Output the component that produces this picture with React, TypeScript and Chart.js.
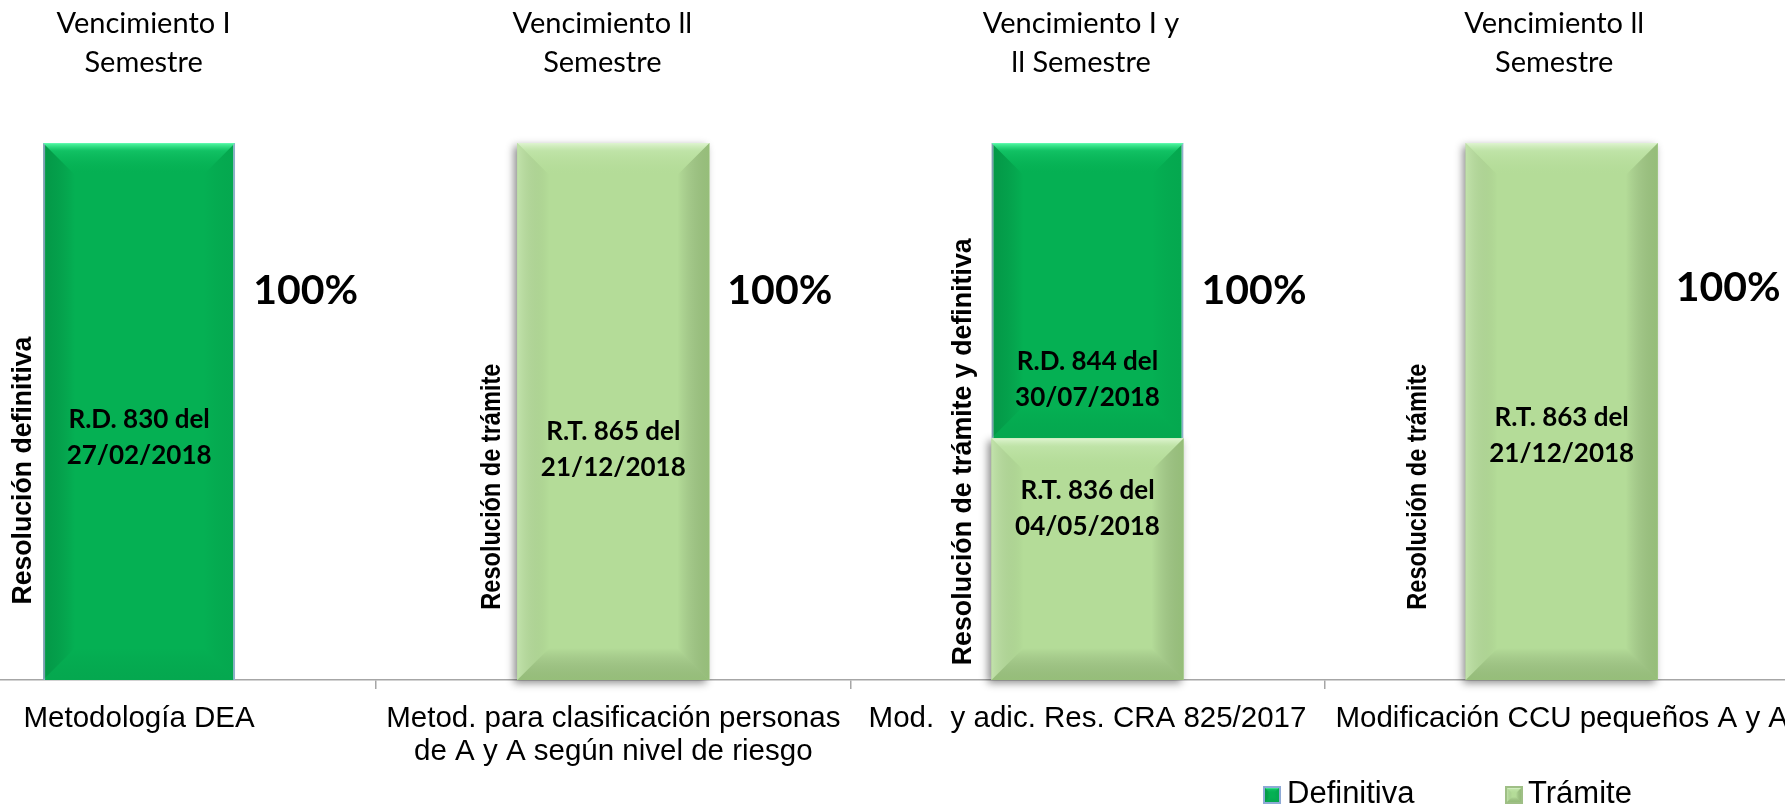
import React, { useEffect, useRef } from "react";
import { Chart, registerables } from "chart.js";

Chart.register(...registerables);

// ---------- data ----------
const categories: string[][] = [
  ["Metodología DEA"],
  ["Metod. para clasificación personas", "de A y A según nivel de riesgo"],
  ["Mod.  y adic. Res. CRA 825/2017"],
  ["Modificación CCU pequeños A y A"],
];
const seriesNames = ["Definitiva", "Trámite"];
const definitiva: (number | null)[] = [100, null, 55, null];
const tramite: (number | null)[] = [null, 100, 45, 100];
const percentLabels = ["100%", "100%", "100%", "100%"];
const periodTitles: string[][] = [
  ["Vencimiento I", "Semestre"],
  ["Vencimiento ll", "Semestre"],
  ["Vencimiento I y", "ll Semestre"],
  ["Vencimiento ll", "Semestre"],
];
const sideLabels = [
  "Resolución definitiva",
  "Resolución de trámite",
  "Resolución de trámite y definitiva",
  "Resolución de trámite",
];
const definitivaNotes: (string[] | null)[] = [
  ["R.D. 830 del", "27/02/2018"],
  null,
  ["R.D. 844 del", "30/07/2018"],
  null,
];
const tramiteNotes: (string[] | null)[] = [
  null,
  ["R.T. 865 del", "21/12/2018"],
  ["R.T. 836 del", "04/05/2018"],
  ["R.T. 863 del", "21/12/2018"],
];

// ---------- layout (positions / styles) ----------
const SHIFT = 98; // the picture is a crop: canvas starts left of the page
const CANVAS_W = 1900;
const CANVAS_H = 806;
const noteYDef = [45.1, null, 55.9, null];
const noteYTra = [null, 42.9, 31.9, 45.5];
const sideDX = [-20, -25, -28, -47];
const sideYv = [39, 36, 42.5, 36];
const sideLen = [268, 246, 427, 246];
const pctYv = [70.1, 70.1, 70.1, 70.6];
const titleDX = [4.5, -11, -6.5, -7.5];
const SANS = "'Liberation Sans', Arial, sans-serif";
const HUMAN = "Lato, 'Open Sans', sans-serif";
const DEF_COLOR = "#05b053";
const TRA_COLOR = "#b4dc98";

function poly(ctx: CanvasRenderingContext2D, pts: number[][], fill: any) {
  ctx.beginPath();
  ctx.moveTo(pts[0][0], pts[0][1]);
  for (let i = 1; i < pts.length; i++) ctx.lineTo(pts[i][0], pts[i][1]);
  ctx.closePath();
  ctx.fillStyle = fill;
  ctx.fill();
}

function bevel(ctx: CanvasRenderingContext2D, l: number, t: number, r: number, b: number, kind: string, depth = 32) {
  const w = r - l;
  const h = b - t;
  const d = Math.min(depth, w / 2, h / 2);
  const pal =
    kind === "def"
      ? {
          top: ["rgba(90,255,170,0.95)", "rgba(40,225,130,0.35)", "rgba(0,176,80,0)"],
          left: "rgba(0,70,30,0.22)",
          right: "rgba(0,70,30,0.08)",
          bottom: "rgba(0,70,30,0.08)",
        }
      : {
          top: ["rgba(225,246,212,0.95)", "rgba(205,236,186,0.45)", "rgba(181,221,154,0)"],
          left: "rgba(255,255,255,0.18)",
          right: "rgba(80,120,50,0.30)",
          bottom: "rgba(80,120,50,0.30)",
        };
  ctx.save();
  let g = ctx.createLinearGradient(l, 0, l + d, 0);
  g.addColorStop(0, pal.left);
  g.addColorStop(1, "rgba(0,0,0,0)");
  poly(ctx, [[l, t], [l + d, t + d], [l + d, b - d], [l, b]], g);
  g = ctx.createLinearGradient(r, 0, r - d, 0);
  g.addColorStop(0, pal.right);
  g.addColorStop(1, "rgba(0,0,0,0)");
  poly(ctx, [[r, t], [r - d, t + d], [r - d, b - d], [r, b]], g);
  g = ctx.createLinearGradient(0, b, 0, b - d);
  g.addColorStop(0, pal.bottom);
  g.addColorStop(1, "rgba(0,0,0,0)");
  poly(ctx, [[l, b], [r, b], [r - d, b - d], [l + d, b - d]], g);
  g = ctx.createLinearGradient(0, t, 0, t + d);
  g.addColorStop(0, pal.top[0]);
  g.addColorStop(0.25, pal.top[1]);
  g.addColorStop(1, pal.top[2]);
  poly(ctx, [[l, t], [r, t], [r - d, t + d], [l + d, t + d]], g);
  ctx.restore();
}

function barBox(el: any) {
  const p = el.getProps(["x", "y", "base", "width"], true);
  return {
    l: p.x - p.width / 2,
    r: p.x + p.width / 2,
    t: Math.min(p.y, p.base),
    b: Math.max(p.y, p.base),
    x: p.x,
  };
}

const decor = {
  id: "decor",
  beforeDatasetsDraw(chart: any) {
    const ctx = chart.ctx as CanvasRenderingContext2D;
    const meta = chart.getDatasetMeta(1);
    meta.data.forEach((el: any, j: number) => {
      if (tramite[j] == null) return;
      const bx = barBox(el);
      ctx.save();
      ctx.shadowColor = "rgba(0,0,0,0.45)";
      ctx.shadowBlur = 8;
      ctx.shadowOffsetX = -3;
      ctx.shadowOffsetY = 3;
      ctx.fillStyle = TRA_COLOR;
      ctx.fillRect(bx.l, bx.t, bx.r - bx.l, bx.b - bx.t);
      ctx.restore();
    });
  },
  afterDatasetsDraw(chart: any) {
    const ctx = chart.ctx as CanvasRenderingContext2D;
    [definitiva, tramite].forEach((arr, di) => {
      const meta = chart.getDatasetMeta(di);
      meta.data.forEach((el: any, j: number) => {
        if (arr[j] == null) return;
        const bx = barBox(el);
        bevel(ctx, bx.l, bx.t, bx.r, bx.b, di === 0 ? "def" : "tra");
      });
    });
  },
  afterDraw(chart: any) {
    const ctx = chart.ctx as CanvasRenderingContext2D;
    const ys = chart.scales.y;
    const boxes = categories.map((_, j) => {
      const m0 = chart.getDatasetMeta(0).data[j];
      const m1 = chart.getDatasetMeta(1).data[j];
      return barBox(definitiva[j] != null ? m0 : m1);
    });
    ctx.save();
    ctx.fillStyle = "#000";
    // period titles
    ctx.font = `29px ${HUMAN}`;
    ctx.textAlign = "center";
    ctx.textBaseline = "alphabetic";
    periodTitles.forEach((lines, j) => {
      lines.forEach((ln, k) => ctx.fillText(ln, boxes[j].x + titleDX[j], 33 + k * 39));
    });
    // percentages
    ctx.font = `bold 41px ${HUMAN}`;
    ctx.textAlign = "left";
    percentLabels.forEach((s, j) => {
      ctx.fillText(s, boxes[j].r + 18, ys.getPixelForValue(pctYv[j]));
    });
    // notes inside bars
    ctx.font = `bold 26px ${HUMAN}`;
    ctx.textAlign = "center";
    ctx.textBaseline = "middle";
    const drawNote = (lines: string[] | null, yv: number | null, x: number) => {
      if (!lines || yv == null) return;
      const yc = ys.getPixelForValue(yv);
      const lh = 36;
      lines.forEach((ln, k) => ctx.fillText(ln, x, yc + (k - (lines.length - 1) / 2) * lh));
    };
    categories.forEach((_, j) => {
      drawNote(definitivaNotes[j], noteYDef[j], boxes[j].x);
      drawNote(tramiteNotes[j], noteYTra[j], boxes[j].x);
    });
    // vertical side labels
    sideLabels.forEach((s, j) => {
      ctx.save();
      ctx.font = `bold 27px ${SANS}`;
      const w = ctx.measureText(s).width;
      ctx.translate(boxes[j].l + sideDX[j], ys.getPixelForValue(sideYv[j]));
      ctx.rotate(-Math.PI / 2);
      ctx.scale(sideLen[j] / w, 1);
      ctx.textAlign = "center";
      ctx.textBaseline = "middle";
      ctx.fillText(s, 0, 0);
      ctx.restore();
    });
    // legend
    const items = [
      { label: seriesNames[0], kind: "def", color: DEF_COLOR, sx: 1263 + SHIFT, tx: 1287 + SHIFT },
      { label: seriesNames[1], kind: "tra", color: TRA_COLOR, sx: 1505 + SHIFT, tx: 1528 + SHIFT },
    ];
    ctx.font = `31px ${SANS}`;
    ctx.textAlign = "left";
    ctx.textBaseline = "alphabetic";
    items.forEach((it) => {
      const sz = 18;
      const top = 786;
      ctx.fillStyle = it.kind === "def" ? "#8eaad6" : "#9fbf86";
      ctx.fillRect(it.sx, top, sz, sz);
      ctx.fillStyle = it.color;
      ctx.fillRect(it.sx + 2, top + 2, sz - 4, sz - 4);
      bevel(ctx, it.sx + 2, top + 2, it.sx + sz - 2, top + sz - 2, it.kind, 5);
      ctx.fillStyle = "#000";
      ctx.fillText(it.label, it.tx, 803);
    });
    ctx.restore();
  },
};

export default function App() {
  const ref = useRef<HTMLCanvasElement | null>(null);
  useEffect(() => {
    if (!ref.current) return;
    const chart = new Chart(ref.current, {
      type: "bar",
      data: {
        labels: categories,
        datasets: [
          {
            label: seriesNames[0],
            data: definitiva,
            backgroundColor: DEF_COLOR,
            borderColor: "#9bb7d9",
            borderWidth: { left: 2, right: 2, top: 1, bottom: 0 },
            borderSkipped: false,
            order: 2,
          },
          {
            label: seriesNames[1],
            data: tramite,
            backgroundColor: TRA_COLOR,
            borderWidth: 0,
            order: 1,
          },
        ],
      },
      options: {
        responsive: false,
        animation: false,
        devicePixelRatio: 1,
        layout: { padding: { top: 143, left: 0, right: 0, bottom: 0 } },
        datasets: { bar: { barPercentage: 0.405, categoryPercentage: 1 } },
        plugins: { legend: { display: false }, tooltip: { enabled: false } },
        scales: {
          x: {
            stacked: true,
            offset: true,
            grid: {
              display: true,
              offset: true,
              drawOnChartArea: false,
              drawTicks: true,
              tickLength: 9,
              color: "#a6a6a6",
              lineWidth: 1.5,
            },
            border: { display: true, color: "#a6a6a6", width: 1.5 },
            ticks: {
              color: "#000",
              padding: 14,
              autoSkip: false,
              maxRotation: 0,
              font: { family: SANS, size: 29.5, lineHeight: 1.1 },
            },
            afterFit: (s: any) => {
              s.height = 126;
            },
          },
          y: { stacked: true, display: false, min: 0, max: 100 },
        },
      } as any,
      plugins: [decor],
    });
    return () => chart.destroy();
  }, []);
  return (
    <div
      style={{
        position: "fixed",
        left: 0,
        top: 0,
        width: 1785,
        height: 806,
        overflow: "hidden",
        background: "#fff",
      }}
    >
      <canvas
        ref={ref}
        width={CANVAS_W}
        height={CANVAS_H}
        style={{ position: "absolute", left: -SHIFT, top: 0, width: CANVAS_W, height: CANVAS_H }}
      />
    </div>
  );
}
